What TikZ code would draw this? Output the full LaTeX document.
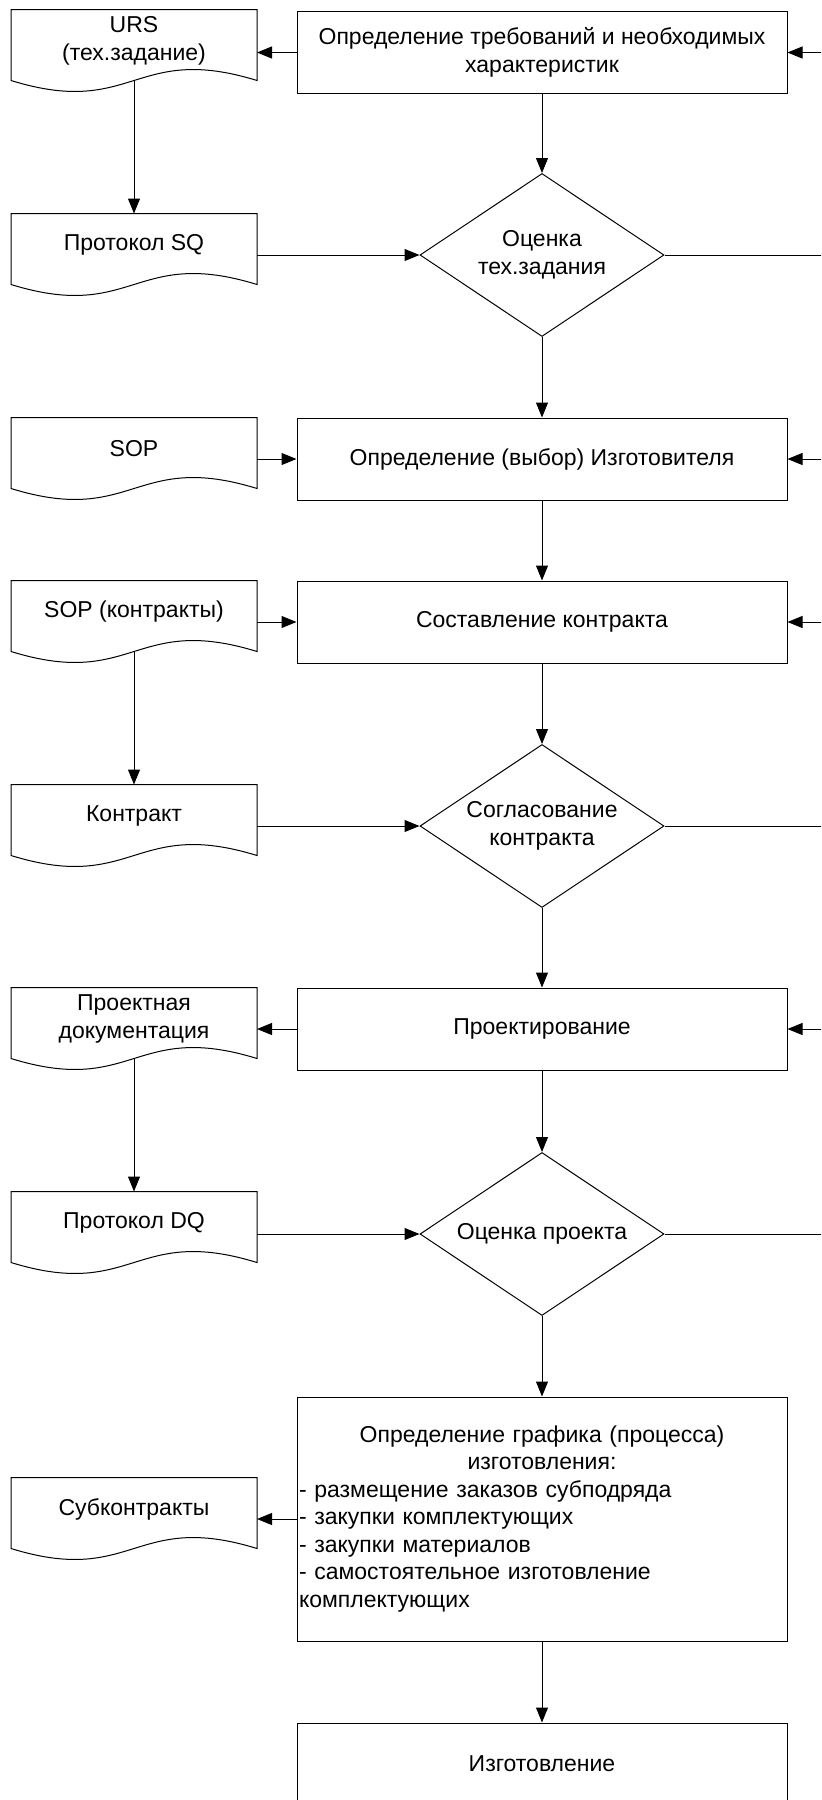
\documentclass[tikz,border=0pt]{standalone}
\usepackage{fontspec}
\setmainfont{Liberation Sans}
\usetikzlibrary{arrows.meta,shapes.geometric,calc}

\tikzset{
  stepbox/.style={draw, rectangle, minimum width=245pt, minimum height=41pt,
    inner sep=1pt, align=center},
  decision/.style={draw, diamond, aspect=1.5, minimum width=122pt,
    minimum height=81.5pt, inner sep=0pt, align=center},
  docnode/.style={rectangle, minimum width=122.5pt, minimum height=31pt,
    inner sep=0pt, align=center},
  flow/.style={-{Triangle[length=7.5pt,width=6pt]}},
}

% outline of a "document" symbol around a docnode, plus a coordinate
% in the middle of its wavy lower edge
\newcommand{\docoutline}[1]{%
  \draw (#1.north west) -- (#1.north east) -- ($(#1.north east)+(0,71)$)
    .. controls ($(#1.north)+(0,33)$) and ($(#1.north)+(0,109)$)
    .. ($(#1.north west)+(0,71)$) -- cycle;
  \coordinate (#1-b) at ($(#1.north)+(0,71)$);}

\begin{document}
\begin{tikzpicture}[x=0.5pt, y=-0.5pt, line width=0.5pt,
  font=\fontsize{11.5}{13.75}\selectfont]
\useasboundingbox (0,0) rectangle (821,1800);
\clip (0,0) rectangle (821,1800);
\coordinate (edge) at (840,0);

% process steps
\node[stepbox] (b1) at (542,52.5) {Определение требований и необходимых\\характеристик};
\node[stepbox] (b2) at (542,459) {Определение (выбор) Изготовителя};
\node[stepbox] (b3) at (542,622) {Составление контракта};
\node[stepbox] (b4) at (542,1029) {Проектирование};
\node[stepbox, minimum height=122pt, text width=243pt, inner sep=0.5pt, align=left]
  (b5) at (542,1519)
  {{\centering Определение графика (процесса)\\изготовления:\par}
   - размещение заказов субподряда\\
   - закупки комплектующих\\
   - закупки материалов\\
   - самостоятельное изготовление\\
   комплектующих};
\node[stepbox] (b6) at (542,1764) {Изготовление};

% decisions
\node[decision] (d1) at (542,255) {Оценка\\тех.задания};
\node[decision] (d2) at (542,826) {Согласование\\контракта};
\node[decision] (d3) at (542,1234) {Оценка проекта};

% documents
\node[docnode] (urs) at (134,41) {URS\\(тех.задание)};
\node[docnode] (sq) at (134,245) {Протокол SQ};
\node[docnode] (sop) at (134,449) {SOP};
\node[docnode] (sopk) at (134,612) {SOP (контракты)};
\node[docnode] (kontr) at (134,816) {Контракт};
\node[docnode] (pd) at (134,1019) {Проектная\\документация};
\node[docnode] (dq) at (134,1223) {Протокол DQ};
\node[docnode] (sub) at (134,1509) {Субконтракты};
\foreach \d in {urs,sq,sop,sopk,kontr,pd,dq,sub} {\docoutline{\d}}

% main flow
\draw[flow] (b1) -- (d1);
\draw[flow] (d1) -- (b2);
\draw[flow] (b2) -- (b3);
\draw[flow] (b3) -- (d2);
\draw[flow] (d2) -- (b4);
\draw[flow] (b4) -- (d3);
\draw[flow] (d3) -- (b5);
\draw[flow] (b5) -- (b6);

% documents produced and used
\draw[flow] (b1.west) -- (b1.west -| urs.east);
\draw[flow] (urs-b) -- (sq.north);
\draw[flow] (d1.west -| sq.east) -- (d1.west);
\draw[flow] (b2.west -| sop.east) -- (b2.west);
\draw[flow] (b3.west -| sopk.east) -- (b3.west);
\draw[flow] (sopk-b) -- (kontr.north);
\draw[flow] (d2.west -| kontr.east) -- (d2.west);
\draw[flow] (b4.west) -- (b4.west -| pd.east);
\draw[flow] (pd-b) -- (dq.north);
\draw[flow] (d3.west -| dq.east) -- (d3.west);
\draw[flow] (b5.west) -- (b5.west -| sub.east);

% returns along the right margin
\draw[flow] (b1.east -| edge) -- (b1.east);
\draw[flow] (b2.east -| edge) -- (b2.east);
\draw[flow] (b3.east -| edge) -- (b3.east);
\draw[flow] (b4.east -| edge) -- (b4.east);
\draw (d1.east) -- (d1.east -| edge);
\draw (d2.east) -- (d2.east -| edge);
\draw (d3.east) -- (d3.east -| edge);
\end{tikzpicture}
\end{document}
